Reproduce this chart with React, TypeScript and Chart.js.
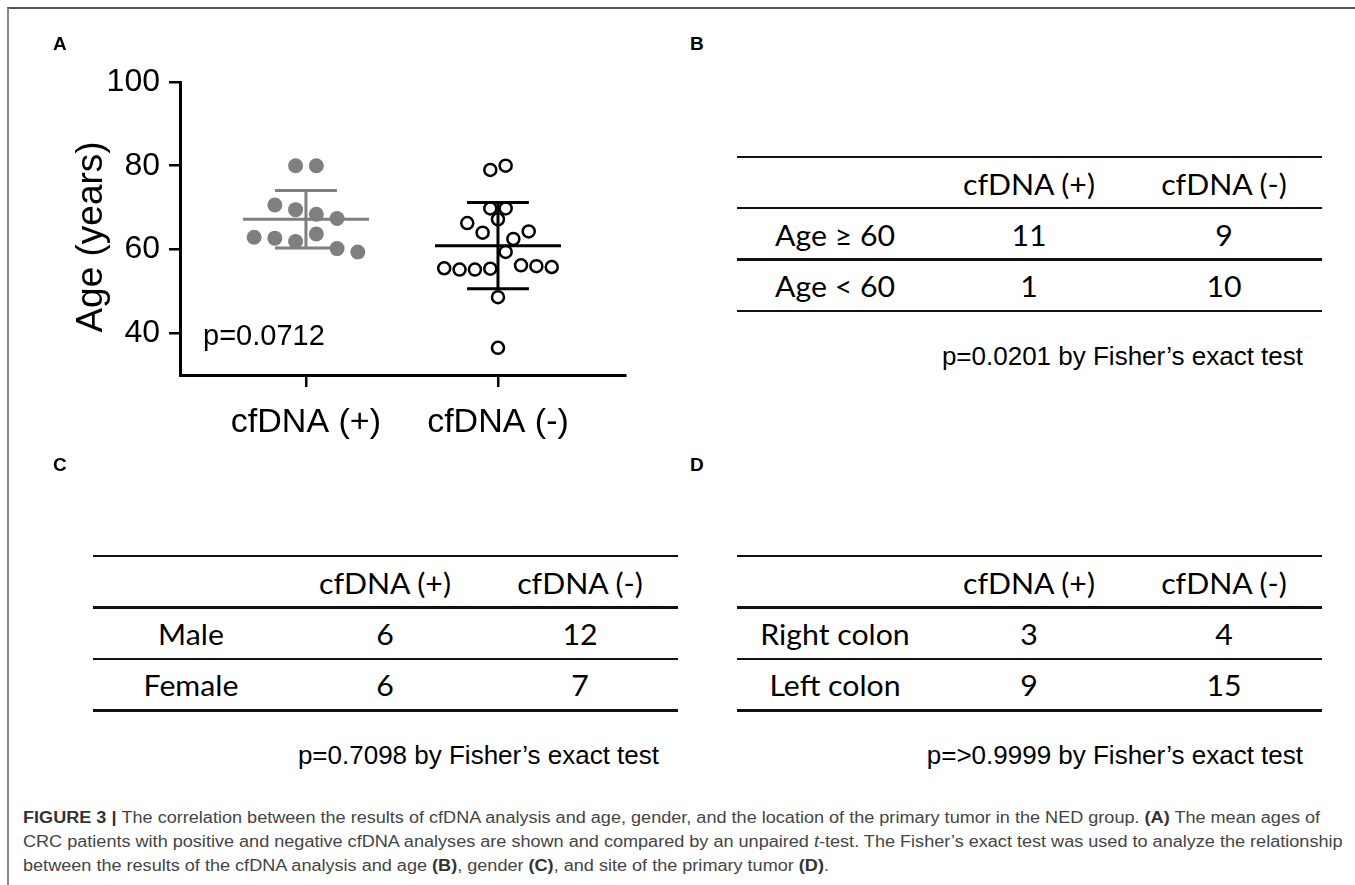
import React, { useEffect, useRef } from "react";
import { Chart, registerables } from "chart.js";

Chart.register(...registerables);

// ---------- Panel A data ----------
const groupLabels = ["cfDNA (+)", "cfDNA (-)"];
const groupX = [1, 2];
const agesPositive = [80, 80, 70.6, 69.5, 68.4, 67.4, 62.9, 62.7, 61.9, 63.7, 60.2, 59.4];
const slotsPositive = [-0.5, 0.5, -1.5, -0.5, 0.5, 1.5, -2.5, -1.5, -0.5, 0.5, 1.5, 2.5];
const agesNegative = [79.0, 80.0, 69.8, 69.8, 67.2, 66.3, 64.0, 64.3, 62.5, 59.4, 55.5, 55.2, 55.2, 55.4, 56.2, 56.0, 55.8, 48.6, 36.5];
const slotsNegative = [-0.5, 0.5, -0.5, 0.5, 0, -2, -1, 2, 1, 0.5, -3.5, -2.5, -1.5, -0.5, 1.5, 2.5, 3.5, 0, 0];
const meanAge = [67.2, 60.9];
const sdAge = [6.85, 10.3];
const yTicks = [40, 60, 80, 100];
const yTitle = "Age (years)";
const pValueA = "p=0.0712";

// ---------- Tables ----------
const tableHeaders = ["cfDNA (+)", "cfDNA (-)"];
const ageRowLabels = ["Age \u2265 60", "Age < 60"];
const ageCounts = [[11, 9], [1, 10]];
const genderRowLabels = ["Male", "Female"];
const genderCounts = [[6, 12], [6, 7]];
const siteRowLabels = ["Right colon", "Left colon"];
const siteCounts = [[3, 4], [9, 15]];
const pTextB = "p=0.0201 by Fisher\u2019s exact test";
const pTextC = "p=0.7098 by Fisher\u2019s exact test";
const pTextD = "p=>0.9999 by Fisher\u2019s exact test";

const ARIAL = "'Liberation Sans', Arial, sans-serif";
const TABLE_FONT = "Lato, 'Open Sans', sans-serif";
const K_ARIAL = 0.8465;
const K_LATO = 0.887;

function Txt(props: {
  x: number; y: number; size: number; family: string; k: number;
  align?: "left" | "center" | "right"; weight?: string | number; color?: string;
  sx?: number; children: React.ReactNode;
}) {
  const { x, y, size, family, k, align = "left", weight = 400, color = "#000", sx = 1, children } = props;
  const tr = align === "center" ? "translateX(-50%)" : align === "right" ? "translateX(-100%)" : "";
  const origin = align === "center" ? "center" : align === "right" ? "right" : "left";
  return (
    <div
      style={{
        position: "absolute", left: x, top: y - k * size, fontSize: size, lineHeight: `${size}px`,
        fontFamily: family, fontWeight: weight as any, color, whiteSpace: "nowrap",
        transform: `${tr} scaleX(${sx})`, transformOrigin: `${origin} center`,
      }}
    >
      {children}
    </div>
  );
}

function StatTable(props: { left: number; top: number; rows: string[]; counts: number[][]; pText: string }) {
  const { left, top, rows, counts, pText } = props;
  const rowH = 51.4;
  const colX = [97.5, 292, 487];
  const lines = [0, 1, 2, 3].map((i) => top + i * rowH);
  const fs = 28;
  const sx = 1.08;
  return (
    <>
      {lines.map((ly, i) => (
        <div key={"l" + i} style={{ position: "absolute", left, top: ly - 1.2, width: 585, height: 2.5, background: "#111" }} />
      ))}
      {tableHeaders.map((h, j) => (
        <Txt key={"h" + j} x={left + colX[j + 1]} y={top + 38.3} size={fs} family={TABLE_FONT} k={K_LATO} align="center" sx={sx}>{h}</Txt>
      ))}
      {rows.map((r, i) => (
        <React.Fragment key={"r" + i}>
          <Txt x={left + colX[0]} y={lines[i + 1] + 37.5} size={fs} family={TABLE_FONT} k={K_LATO} align="center" sx={sx}>{r}</Txt>
          {counts[i].map((c, j) => (
            <Txt key={j} x={left + colX[j + 1]} y={lines[i + 1] + 37.5} size={fs} family={TABLE_FONT} k={K_LATO} align="center" sx={sx}>{String(c)}</Txt>
          ))}
        </React.Fragment>
      ))}
      <Txt x={left + 566} y={top + 208.5} size={26} family={ARIAL} k={K_ARIAL} align="right">{pText}</Txt>
    </>
  );
}

function DotPlot() {
  const ref = useRef<HTMLCanvasElement | null>(null);
  useEffect(() => {
    if (!ref.current) return;
    const slotW = [0.108, 0.08];
    const meanHalf = 0.328;
    const capHalf = 0.161;
    const pts = (ages: number[], slots: number[], gi: number) =>
      ages.map((a, i) => ({ x: groupX[gi] + slots[i] * slotW[gi], y: a }));
    const errData = (gi: number) => {
      const g = groupX[gi], m = meanAge[gi], s = sdAge[gi];
      const gap = () => ({ x: g, y: NaN });
      return [
        { x: g - meanHalf, y: m }, { x: g + meanHalf, y: m }, gap(),
        { x: g, y: m + s }, { x: g, y: m - s }, gap(),
        { x: g - capHalf, y: m + s }, { x: g + capHalf, y: m + s }, gap(),
        { x: g - capHalf, y: m - s }, { x: g + capHalf, y: m - s },
      ];
    };
    const gray = "#7f7f7f";
    const chart = new Chart(ref.current, {
      type: "scatter",
      data: {
        datasets: [
          {
            label: "err +", data: errData(0) as any, showLine: true, borderColor: gray, borderWidth: 3,
            pointRadius: 0, spanGaps: false, tension: 0, order: 0,
          } as any,
          {
            label: "err -", data: errData(1) as any, showLine: true, borderColor: "#000", borderWidth: 3,
            pointRadius: 0, spanGaps: false, tension: 0, order: 0,
          } as any,
          {
            label: groupLabels[0], data: pts(agesPositive, slotsPositive, 0), pointRadius: 7.5,
            backgroundColor: gray, borderColor: gray, borderWidth: 0, order: 1,
          },
          {
            label: groupLabels[1], data: pts(agesNegative, slotsNegative, 1), pointRadius: 6,
            backgroundColor: "#fff", borderColor: "#000", borderWidth: 2.5, order: 1,
          },
        ],
      },
      options: {
        animation: false,
        responsive: false,
        devicePixelRatio: 1,
        events: [],
        layout: { padding: { left: 50, right: 55, top: 82, bottom: 10 } },
        plugins: { legend: { display: false }, tooltip: { enabled: false } },
        scales: {
          x: {
            type: "linear",
            min: 0.344,
            max: 2.6615,
            afterBuildTicks: (scale: any) => { scale.ticks = groupX.map((v) => ({ value: v })); },
            afterFit: (scale: any) => { scale.height = 75; },
            ticks: {
              callback: (v: any) => groupLabels[groupX.indexOf(Number(v))] ?? "",
              font: { family: ARIAL, size: 34 },
              color: "#000",
              padding: 15,
              maxRotation: 0,
              autoSkip: false,
            },
            grid: { drawOnChartArea: false, drawTicks: true, tickLength: 12, color: "#000", lineWidth: 2.5 },
            border: { display: true, color: "#000", width: 3 },
          },
          y: {
            type: "linear",
            min: 30,
            max: 100,
            afterBuildTicks: (scale: any) => { scale.ticks = yTicks.map((v) => ({ value: v })); },
            afterFit: (scale: any) => { scale.width = 130; },
            ticks: { font: { family: ARIAL, size: 32 }, color: "#000", padding: 9 },
            grid: { drawOnChartArea: false, drawTicks: true, tickLength: 11, color: "#000", lineWidth: 2.5 },
            border: { display: true, color: "#000", width: 3 },
          },
        },
      } as any,
    });
    return () => chart.destroy();
  }, []);
  return (
    <canvas ref={ref} width={680} height={460}
      style={{ position: "absolute", left: 0, top: 0, width: 680, height: 460 }} />
  );
}

export default function App() {
  const capSx = 1.13;
  const bold = { color: "#333" };
  return (
    <div style={{ position: "absolute", left: 0, top: 0, width: 1355, height: 885, overflow: "hidden", background: "#fff" }}>
      <div style={{ position: "absolute", left: 7, top: 7, width: 1400, height: 900, borderTop: "2px solid #555", borderLeft: "2px solid #888" }} />
      <DotPlot />
      <div style={{
        position: "absolute", left: 89, top: 236.5, fontFamily: ARIAL, fontSize: 37, lineHeight: "37px",
        whiteSpace: "nowrap", color: "#000", transform: "translate(-50%, -50%) rotate(-90deg)",
      }}>{yTitle}</div>
      <Txt x={203} y={346} size={29} family={ARIAL} k={K_ARIAL}>{pValueA}</Txt>

      <Txt x={53} y={50} size={19} family={ARIAL} k={K_ARIAL} weight={700}>A</Txt>
      <Txt x={690} y={50} size={19} family={ARIAL} k={K_ARIAL} weight={700}>B</Txt>
      <Txt x={53} y={471} size={19} family={ARIAL} k={K_ARIAL} weight={700}>C</Txt>
      <Txt x={690} y={471} size={19} family={ARIAL} k={K_ARIAL} weight={700}>D</Txt>

      <StatTable left={737} top={156.7} rows={ageRowLabels} counts={ageCounts} pText={pTextB} />
      <StatTable left={93} top={556} rows={genderRowLabels} counts={genderCounts} pText={pTextC} />
      <StatTable left={737} top={556} rows={siteRowLabels} counts={siteCounts} pText={pTextD} />

      <Txt x={22.7} y={823.3} size={16} family={ARIAL} k={K_ARIAL} color="#444" sx={capSx}>
        <b style={bold}>FIGURE 3 | </b>
        The correlation between the results of cfDNA analysis and age, gender, and the location of the primary tumor in the NED group. <b style={bold}>(A)</b> The mean ages of
      </Txt>
      <Txt x={22.7} y={847.7} size={16} family={ARIAL} k={K_ARIAL} color="#444" sx={capSx}>
        CRC patients with positive and negative cfDNA analyses are shown and compared by an unpaired <i>t</i>-test. The Fisher’s exact test was used to analyze the relationship
      </Txt>
      <Txt x={22.7} y={871.7} size={16} family={ARIAL} k={K_ARIAL} color="#444" sx={capSx}>
        between the results of the cfDNA analysis and age <b style={bold}>(B)</b>, gender <b style={bold}>(C)</b>, and site of the primary tumor <b style={bold}>(D)</b>.
      </Txt>
    </div>
  );
}
